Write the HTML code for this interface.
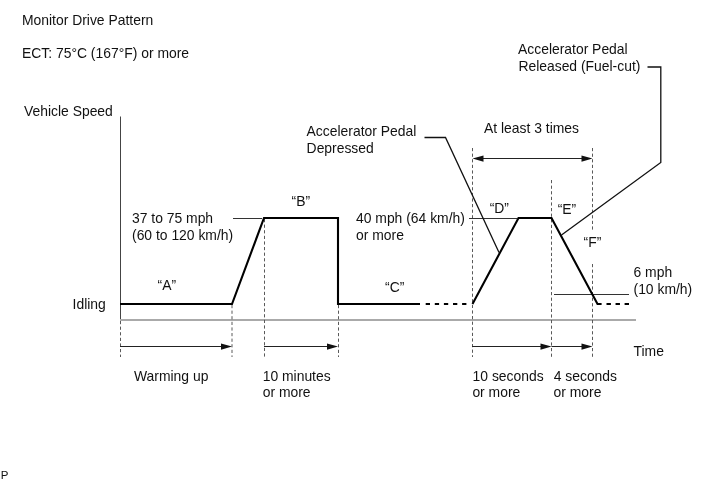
<!DOCTYPE html>
<html><head><meta charset="utf-8">
<style>
html,body{margin:0;padding:0;background:#fff;}
body{width:713px;height:481px;overflow:hidden;}
svg{display:block;will-change:transform;}
text{font-family:"Liberation Sans",sans-serif;font-size:13.9px;fill:#111;}
.thin{stroke:#333;stroke-width:1;fill:none;}
.thick{stroke:#000;stroke-width:2.1;fill:none;stroke-linejoin:miter;}
.dash{stroke:#5a5a5a;stroke-width:1;stroke-dasharray:3.2 2.4;fill:none;}
.lead{stroke:#111;stroke-width:1.3;fill:none;}
</style></head><body>
<svg width="713" height="481" viewBox="0 0 713 481">
<rect width="713" height="481" fill="#fff"/>
<!-- text -->
<text x="22" y="25">Monitor Drive Pattern</text>
<text x="22" y="58">ECT: 75°C (167°F) or more</text>
<text x="24" y="116">Vehicle Speed</text>
<text x="72.6" y="308.6">Idling</text>
<text x="157.5" y="290.3">“A”</text>
<text x="291.5" y="206">“B”</text>
<text x="385" y="292">“C”</text>
<text x="489.7" y="212.5">“D”</text>
<text x="557.7" y="213.5">“E”</text>
<text x="583.6" y="246.5">“F”</text>
<text x="132" y="223">37 to 75 mph</text>
<text x="132" y="240">(60 to 120 km/h)</text>
<text x="356" y="223">40 mph (64 km/h)</text>
<text x="356" y="240">or more</text>
<text x="306.6" y="136">Accelerator Pedal</text>
<text x="306.6" y="153">Depressed</text>
<text x="518" y="54">Accelerator Pedal</text>
<text x="518.4" y="71">Released (Fuel-cut)</text>
<text x="484" y="133">At least 3 times</text>
<text x="633.5" y="277">6 mph</text>
<text x="633.5" y="294">(10 km/h)</text>
<text x="633.5" y="356">Time</text>
<text x="134" y="381">Warming up</text>
<text x="262.7" y="381">10 minutes</text>
<text x="262.7" y="397">or more</text>
<text x="472.6" y="381">10 seconds</text>
<text x="472.4" y="397">or more</text>
<text x="553.7" y="381">4 seconds</text>
<text x="553.5" y="397">or more</text>
<text x="0.8" y="479.2" style="font-size:11.5px">P</text>

<!-- axis -->
<line x1="120.5" y1="116.5" x2="120.5" y2="320" stroke="#444" stroke-width="1"/>
<line x1="120" y1="320" x2="636" y2="320" stroke="#aaa" stroke-width="2"/>

<!-- dashed verticals -->
<line class="dash" x1="120.5" y1="321" x2="120.5" y2="357"/>
<line class="dash" x1="232" y1="305" x2="232" y2="357"/>
<line class="dash" x1="264.5" y1="219" x2="264.5" y2="357"/>
<line class="dash" x1="338.5" y1="305" x2="338.5" y2="357"/>
<line class="dash" x1="472.5" y1="148" x2="472.5" y2="357"/>
<line class="dash" x1="551.5" y1="180" x2="551.5" y2="357"/>
<line class="dash" x1="592.5" y1="148" x2="592.5" y2="231"/>
<line class="dash" x1="592.5" y1="264" x2="592.5" y2="357"/>

<!-- thin ticks -->
<line class="thin" x1="233" y1="218.5" x2="262" y2="218.5"/>
<line class="thin" x1="469" y1="218.5" x2="517" y2="218.5"/>
<line class="thin" x1="554" y1="294.5" x2="629" y2="294.5"/>

<!-- drive pattern -->
<polyline class="thick" points="120,304 232,304 264,218 338,218 338,304 420,304"/>
<line class="thick" x1="425.7" y1="304" x2="468" y2="304" stroke-dasharray="4.3 4.8"/>
<polyline class="thick" points="472.5,304 518.5,218 551.5,218 597.5,304 601.6,304"/>
<line class="thick" x1="606.5" y1="304" x2="629" y2="304" stroke-dasharray="4.4 4.65"/>

<!-- leaders -->
<polyline class="lead" points="424.5,137.5 445.5,137.5 499,252.5"/>
<polyline class="lead" points="647.5,67 660.8,67 660.8,162.5 561.5,235"/>

<!-- arrows -->
<g stroke="#222" stroke-width="1.1" fill="#111">
<line x1="120" y1="346.5" x2="226" y2="346.5"/><polygon points="232,346.5 221,343.5 221,349.7" stroke="none"/>
<line x1="264" y1="346.5" x2="332" y2="346.5"/><polygon points="338,346.5 327,343.5 327,349.7" stroke="none"/>
<line x1="472" y1="346.5" x2="546" y2="346.5"/><polygon points="551.5,346.5 540.5,343.5 540.5,349.7" stroke="none"/>
<line x1="551.5" y1="346.5" x2="587" y2="346.5"/><polygon points="592.5,346.5 581.5,343.5 581.5,349.7" stroke="none"/>
<line x1="478" y1="158.5" x2="587" y2="158.5"/><polygon points="472.5,158.5 483.5,155.5 483.5,161.7" stroke="none"/><polygon points="592.5,158.5 581.5,155.5 581.5,161.7" stroke="none"/>
</g>
</svg>
</body></html>
